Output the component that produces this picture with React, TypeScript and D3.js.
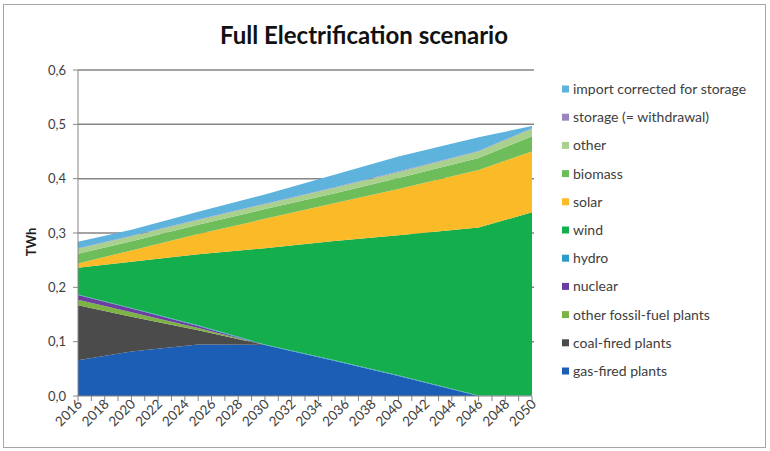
import React from 'react';
import * as d3 from 'd3';

// years where the curves change slope
const years = [2016, 2020, 2025, 2030, 2035, 2040, 2046, 2050];

// TWh, stacked bottom to top
const gasFired = [0.066, 0.082, 0.095, 0.094, 0.066, 0.037, 0.0, 0.0];
const coalFired = [0.101, 0.064, 0.026, 0.0, 0.0, 0.0, 0.0, 0.0];
const otherFossil = [0.01, 0.008, 0.004, 0.0, 0.0, 0.0, 0.0, 0.0];
const nuclear = [0.009, 0.007, 0.004, 0.0, 0.0, 0.0, 0.0, 0.0];
const hydro = [0.001, 0.001, 0.001, 0.001, 0.001, 0.001, 0.001, 0.001];
const wind = [0.049, 0.085, 0.131, 0.177, 0.218, 0.258, 0.309, 0.337];
const solar = [0.008, 0.021, 0.037, 0.054, 0.069, 0.085, 0.106, 0.112];
const biomass = [0.018, 0.017, 0.017, 0.018, 0.018, 0.02, 0.022, 0.028];
const other = [0.009, 0.009, 0.009, 0.009, 0.01, 0.011, 0.012, 0.014];
const storage = [0.001, 0.001, 0.001, 0.001, 0.001, 0.001, 0.001, 0.001];
const importCorrected = [0.012, 0.011, 0.014, 0.017, 0.023, 0.028, 0.025, 0.004];

const yTicks = [0, 0.1, 0.2, 0.3, 0.4, 0.5, 0.6];
const xLabels = [2016, 2018, 2020, 2022, 2024, 2026, 2028, 2030, 2032, 2034, 2036, 2038, 2040, 2042, 2044, 2046, 2048, 2050];

const series = [
  { key: 'gas-fired plants', values: gasFired, color: '#1c5db6' },
  { key: 'coal-fired plants', values: coalFired, color: '#4b4b4b' },
  { key: 'other fossil-fuel plants', values: otherFossil, color: '#7db244' },
  { key: 'nuclear', values: nuclear, color: '#6b3fa0' },
  { key: 'hydro', values: hydro, color: '#2b9cc4' },
  { key: 'wind', values: wind, color: '#14ae4d' },
  { key: 'solar', values: solar, color: '#fbba28' },
  { key: 'biomass', values: biomass, color: '#6dbe5a' },
  { key: 'other', values: other, color: '#a9d18e' },
  { key: 'storage (= withdrawal)', values: storage, color: '#9a86be' },
  { key: 'import corrected for storage', values: importCorrected, color: '#5db3db' },
];

const FONT = 'Lato, "Open Sans", sans-serif';
const TEXT = '#404040';

const App: React.FC = () => {
  const width = 770;
  const height = 451;

  const x = d3.scaleLinear().domain([2016, 2050]).range([78, 532]);
  const y = d3.scaleLinear().domain([0, 0.6]).range([396, 70]);

  const rows = years.map((yr, i) => {
    const r: Record<string, number> = { year: yr };
    series.forEach(s => { r[s.key] = s.values[i]; });
    return r;
  });
  const stacked = d3.stack<Record<string, number>>().keys(series.map(s => s.key))(rows);

  const area = d3.area<d3.SeriesPoint<Record<string, number>>>()
    .x(d => x(d.data.year))
    .y0(d => y(d[0]))
    .y1(d => y(d[1]));

  const yearTicks = d3.range(2016, 2051);
  const legend = [...series].reverse();

  return (
    <div style={{ position: 'absolute', left: 0, top: 0 }}>
      <svg width={width} height={height} style={{ display: 'block', background: '#fff' }}>
        <rect x={3.5} y={4.5} width={762} height={443} fill="#fff" stroke="#a6a6a6" />
        <text x={364} y={44} textAnchor="middle" fontFamily={FONT} fontWeight="bold" fontSize={24} fill="#111">
          Full Electrification scenario
        </text>

        {yTicks.filter(t => t > 0).map(t => (
          <line key={t} x1={x(2016)} x2={534} y1={y(t)} y2={y(t)} stroke="#858585" strokeWidth={1.5} />
        ))}

        {stacked.map((s, i) => (
          <path key={s.key} d={area(s) || ''} fill={series[i].color} />
        ))}

        <line x1={78} x2={78} y1={70} y2={396} stroke="#868686" />
        <line x1={78} x2={532} y1={396} y2={396} stroke="#868686" />
        {yTicks.map(t => (
          <g key={t}>
            <line x1={73} x2={78} y1={y(t)} y2={y(t)} stroke="#868686" />
            <text x={66} y={y(t)} dy="0.35em" textAnchor="end" fontFamily={FONT} fontSize={13} fill={TEXT}>
              {t.toFixed(1).replace('.', ',')}
            </text>
          </g>
        ))}
        {yearTicks.map(yr => (
          <line key={yr} x1={x(yr)} x2={x(yr)} y1={396} y2={401} stroke="#868686" />
        ))}
        {xLabels.map(yr => (
          <text key={yr} transform={`translate(${x(yr) + 5},${405}) rotate(-45)`} textAnchor="end"
            fontFamily={FONT} fontSize={13.5} fill={TEXT}>
            {yr}
          </text>
        ))}
        <text transform="translate(36,242) rotate(-90)" textAnchor="middle" fontFamily={FONT}
          fontWeight="bold" fontSize={13} fill="#222">TWh</text>

        {legend.map((s, i) => (
          <g key={s.key} transform={`translate(562,${89 + i * 28.2})`}>
            <rect x={0} y={-3.5} width={7} height={7} fill={s.color} />
            <text x={11} y={0} dy="0.35em" fontFamily={FONT} fontSize={14} fill={TEXT}>{s.key}</text>
          </g>
        ))}
      </svg>
    </div>
  );
};

export default App;
